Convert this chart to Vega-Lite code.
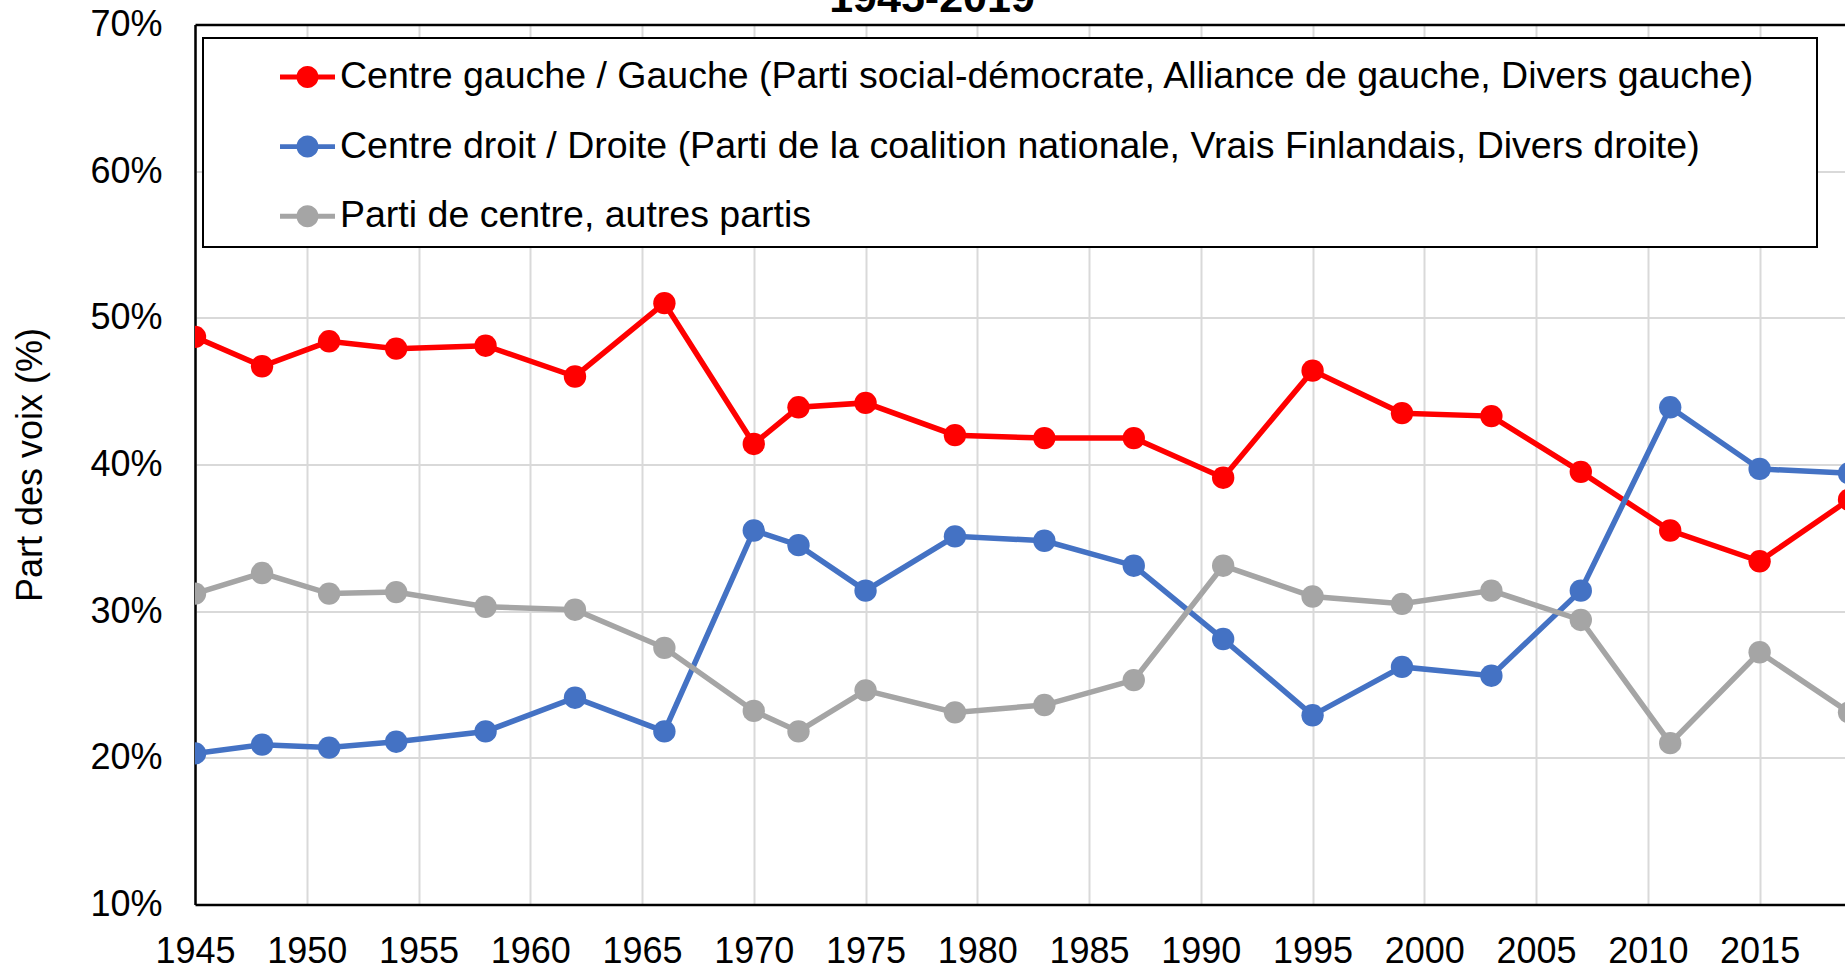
{
  "$schema": "https://vega.github.io/schema/vega-lite/v6.json",
  "autosize": {"type": "none"},
  "padding": {"left": 195, "top": 24.5, "right": 0, "bottom": 63.5},
  "width": 1650,
  "height": 880,
  "background": "white",
  "title": {"text": "1945-2019", "fontSize": 43, "fontWeight": "bold", "font": "Liberation Sans", "color": "black", "anchor": "middle", "frame": "group", "baseline": "alphabetic", "offset": -48.5, "dx": -88},
  "config": {"view": {"stroke": null}, "font": "Liberation Sans"},
  "data": {"values": [
    {"year": 1945, "serie": "Centre gauche / Gauche (Parti social-démocrate, Alliance de gauche, Divers gauche)", "share": 0.487},
    {"year": 1948, "serie": "Centre gauche / Gauche (Parti social-démocrate, Alliance de gauche, Divers gauche)", "share": 0.467},
    {"year": 1951, "serie": "Centre gauche / Gauche (Parti social-démocrate, Alliance de gauche, Divers gauche)", "share": 0.484},
    {"year": 1954, "serie": "Centre gauche / Gauche (Parti social-démocrate, Alliance de gauche, Divers gauche)", "share": 0.479},
    {"year": 1958, "serie": "Centre gauche / Gauche (Parti social-démocrate, Alliance de gauche, Divers gauche)", "share": 0.481},
    {"year": 1962, "serie": "Centre gauche / Gauche (Parti social-démocrate, Alliance de gauche, Divers gauche)", "share": 0.460},
    {"year": 1966, "serie": "Centre gauche / Gauche (Parti social-démocrate, Alliance de gauche, Divers gauche)", "share": 0.510},
    {"year": 1970, "serie": "Centre gauche / Gauche (Parti social-démocrate, Alliance de gauche, Divers gauche)", "share": 0.414},
    {"year": 1972, "serie": "Centre gauche / Gauche (Parti social-démocrate, Alliance de gauche, Divers gauche)", "share": 0.439},
    {"year": 1975, "serie": "Centre gauche / Gauche (Parti social-démocrate, Alliance de gauche, Divers gauche)", "share": 0.442},
    {"year": 1979, "serie": "Centre gauche / Gauche (Parti social-démocrate, Alliance de gauche, Divers gauche)", "share": 0.420},
    {"year": 1983, "serie": "Centre gauche / Gauche (Parti social-démocrate, Alliance de gauche, Divers gauche)", "share": 0.418},
    {"year": 1987, "serie": "Centre gauche / Gauche (Parti social-démocrate, Alliance de gauche, Divers gauche)", "share": 0.418},
    {"year": 1991, "serie": "Centre gauche / Gauche (Parti social-démocrate, Alliance de gauche, Divers gauche)", "share": 0.391},
    {"year": 1995, "serie": "Centre gauche / Gauche (Parti social-démocrate, Alliance de gauche, Divers gauche)", "share": 0.464},
    {"year": 1999, "serie": "Centre gauche / Gauche (Parti social-démocrate, Alliance de gauche, Divers gauche)", "share": 0.435},
    {"year": 2003, "serie": "Centre gauche / Gauche (Parti social-démocrate, Alliance de gauche, Divers gauche)", "share": 0.433},
    {"year": 2007, "serie": "Centre gauche / Gauche (Parti social-démocrate, Alliance de gauche, Divers gauche)", "share": 0.395},
    {"year": 2011, "serie": "Centre gauche / Gauche (Parti social-démocrate, Alliance de gauche, Divers gauche)", "share": 0.355},
    {"year": 2015, "serie": "Centre gauche / Gauche (Parti social-démocrate, Alliance de gauche, Divers gauche)", "share": 0.334},
    {"year": 2019, "serie": "Centre gauche / Gauche (Parti social-démocrate, Alliance de gauche, Divers gauche)", "share": 0.376},
    {"year": 1945, "serie": "Centre droit / Droite (Parti de la coalition nationale, Vrais Finlandais, Divers droite)", "share": 0.203},
    {"year": 1948, "serie": "Centre droit / Droite (Parti de la coalition nationale, Vrais Finlandais, Divers droite)", "share": 0.209},
    {"year": 1951, "serie": "Centre droit / Droite (Parti de la coalition nationale, Vrais Finlandais, Divers droite)", "share": 0.207},
    {"year": 1954, "serie": "Centre droit / Droite (Parti de la coalition nationale, Vrais Finlandais, Divers droite)", "share": 0.211},
    {"year": 1958, "serie": "Centre droit / Droite (Parti de la coalition nationale, Vrais Finlandais, Divers droite)", "share": 0.218},
    {"year": 1962, "serie": "Centre droit / Droite (Parti de la coalition nationale, Vrais Finlandais, Divers droite)", "share": 0.241},
    {"year": 1966, "serie": "Centre droit / Droite (Parti de la coalition nationale, Vrais Finlandais, Divers droite)", "share": 0.218},
    {"year": 1970, "serie": "Centre droit / Droite (Parti de la coalition nationale, Vrais Finlandais, Divers droite)", "share": 0.355},
    {"year": 1972, "serie": "Centre droit / Droite (Parti de la coalition nationale, Vrais Finlandais, Divers droite)", "share": 0.345},
    {"year": 1975, "serie": "Centre droit / Droite (Parti de la coalition nationale, Vrais Finlandais, Divers droite)", "share": 0.314},
    {"year": 1979, "serie": "Centre droit / Droite (Parti de la coalition nationale, Vrais Finlandais, Divers droite)", "share": 0.351},
    {"year": 1983, "serie": "Centre droit / Droite (Parti de la coalition nationale, Vrais Finlandais, Divers droite)", "share": 0.348},
    {"year": 1987, "serie": "Centre droit / Droite (Parti de la coalition nationale, Vrais Finlandais, Divers droite)", "share": 0.331},
    {"year": 1991, "serie": "Centre droit / Droite (Parti de la coalition nationale, Vrais Finlandais, Divers droite)", "share": 0.281},
    {"year": 1995, "serie": "Centre droit / Droite (Parti de la coalition nationale, Vrais Finlandais, Divers droite)", "share": 0.229},
    {"year": 1999, "serie": "Centre droit / Droite (Parti de la coalition nationale, Vrais Finlandais, Divers droite)", "share": 0.262},
    {"year": 2003, "serie": "Centre droit / Droite (Parti de la coalition nationale, Vrais Finlandais, Divers droite)", "share": 0.256},
    {"year": 2007, "serie": "Centre droit / Droite (Parti de la coalition nationale, Vrais Finlandais, Divers droite)", "share": 0.314},
    {"year": 2011, "serie": "Centre droit / Droite (Parti de la coalition nationale, Vrais Finlandais, Divers droite)", "share": 0.439},
    {"year": 2015, "serie": "Centre droit / Droite (Parti de la coalition nationale, Vrais Finlandais, Divers droite)", "share": 0.397},
    {"year": 2019, "serie": "Centre droit / Droite (Parti de la coalition nationale, Vrais Finlandais, Divers droite)", "share": 0.394},
    {"year": 1945, "serie": "Parti de centre, autres partis", "share": 0.312},
    {"year": 1948, "serie": "Parti de centre, autres partis", "share": 0.326},
    {"year": 1951, "serie": "Parti de centre, autres partis", "share": 0.312},
    {"year": 1954, "serie": "Parti de centre, autres partis", "share": 0.313},
    {"year": 1958, "serie": "Parti de centre, autres partis", "share": 0.303},
    {"year": 1962, "serie": "Parti de centre, autres partis", "share": 0.301},
    {"year": 1966, "serie": "Parti de centre, autres partis", "share": 0.275},
    {"year": 1970, "serie": "Parti de centre, autres partis", "share": 0.232},
    {"year": 1972, "serie": "Parti de centre, autres partis", "share": 0.218},
    {"year": 1975, "serie": "Parti de centre, autres partis", "share": 0.246},
    {"year": 1979, "serie": "Parti de centre, autres partis", "share": 0.231},
    {"year": 1983, "serie": "Parti de centre, autres partis", "share": 0.236},
    {"year": 1987, "serie": "Parti de centre, autres partis", "share": 0.253},
    {"year": 1991, "serie": "Parti de centre, autres partis", "share": 0.331},
    {"year": 1995, "serie": "Parti de centre, autres partis", "share": 0.310},
    {"year": 1999, "serie": "Parti de centre, autres partis", "share": 0.305},
    {"year": 2003, "serie": "Parti de centre, autres partis", "share": 0.314},
    {"year": 2007, "serie": "Parti de centre, autres partis", "share": 0.294},
    {"year": 2011, "serie": "Parti de centre, autres partis", "share": 0.210},
    {"year": 2015, "serie": "Parti de centre, autres partis", "share": 0.272},
    {"year": 2019, "serie": "Parti de centre, autres partis", "share": 0.231}
  ]},
  "encoding": {
    "x": {"field": "year", "type": "quantitative",
      "scale": {"domain": [1945, 2018.82], "nice": false, "zero": false},
      "axis": {"title": null, "values": [1945, 1950, 1955, 1960, 1965, 1970, 1975, 1980, 1985, 1990, 1995, 2000, 2005, 2010, 2015],
        "format": "d", "labelFontSize": 36, "labelColor": "black", "labelFont": "Liberation Sans", "labelPadding": 30,
        "ticks": false, "tickSize": 0, "domainColor": "black", "domainWidth": 2.5, "labelOverlap": false, "labelBound": false, "labelFlush": false,
        "grid": true, "gridColor": "#d9d9d9", "gridWidth": 2}},
    "y": {"field": "share", "type": "quantitative",
      "scale": {"domain": [0.1, 0.7], "nice": false, "zero": false},
      "axis": {"title": "Part des voix (%)", "titleFontSize": 36, "titleFontWeight": "normal", "titleColor": "black", "titleFont": "Liberation Sans", "titlePadding": 40,
        "values": [0.1, 0.2, 0.3, 0.4, 0.5, 0.6, 0.7], "format": ".0%",
        "labelFontSize": 36, "labelColor": "black", "labelFont": "Liberation Sans", "labelPadding": 33,
        "ticks": false, "tickSize": 0, "domainColor": "black", "domainWidth": 2.5, "labelOverlap": false, "labelBound": false, "labelFlush": false,
        "grid": true,
        "gridColor": {"condition": {"test": "datum.value >= 0.69", "value": "black"}, "value": "#d9d9d9"},
        "gridWidth": {"condition": {"test": "datum.value >= 0.69", "value": 2.5}, "value": 2}}},
    "color": {"field": "serie", "type": "nominal",
      "scale": {"domain": ["Centre gauche / Gauche (Parti social-démocrate, Alliance de gauche, Divers gauche)", "Centre droit / Droite (Parti de la coalition nationale, Vrais Finlandais, Divers droite)", "Parti de centre, autres partis"], "range": ["#ff0000", "#4472c4", "#a5a5a5"]},
      "legend": {"title": null, "orient": "none", "legendX": 8, "legendY": 13.5,
        "labelFontSize": 37.5, "labelFont": "Liberation Sans", "labelColor": "black", "labelLimit": 3000, "labelOffset": 5,
        "symbolType": "M54.47,0 M-1,-0.09 L1,-0.09 L1,0.09 L-1,0.09 Z M0.4,0 A0.4,0.4 0 1,1 -0.4,0 A0.4,0.4 0 1,1 0.4,0 Z",
        "symbolSize": 3025, "symbolStrokeWidth": 0, "symbolOpacity": 1, "symbolOffset": 65.5,
        "padding": 11.5, "rowPadding": 23.6, "strokeColor": "black", "fillColor": "white",
        "encode": {"legend": {"update": {"strokeWidth": {"value": 2}}},
                   "symbols": {"update": {"fill": {"scale": "color", "field": "value"}, "stroke": {"value": "transparent"}, "strokeWidth": {"value": 0}, "opacity": {"value": 1}}}}}}
  },
  "layer": [
    {"mark": {"type": "line", "strokeWidth": 5.5, "clip": true}},
    {"mark": {"type": "point", "filled": true, "size": 500, "opacity": 1, "clip": true}}
  ]
}
